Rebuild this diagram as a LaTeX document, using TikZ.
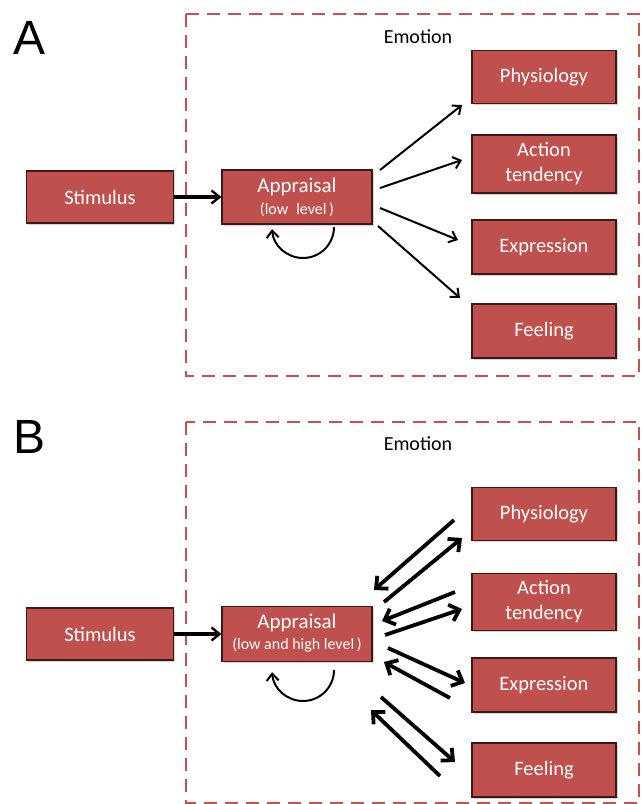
\documentclass[tikz,border=0pt]{standalone}
\usepackage{fontspec}
\setmainfont{Carlito}
\newfontfamily\labelfont{Liberation Sans}
\usetikzlibrary{arrows.meta,shadows}
\definecolor{boxred}{HTML}{C0504D}
\definecolor{boxedge}{HTML}{3A1A19}
\definecolor{dashred}{HTML}{C9504E}
\begin{document}
\begin{tikzpicture}[x=1pt,y=-1pt,
  rbox/.style={draw=boxedge,line width=1.2pt,fill=boxred,text=white,font=\fontsize{20.5}{25}\selectfont,
    minimum width=146pt,minimum height=53pt,inner sep=1pt,align=center,anchor=center,
    drop shadow={shadow xshift=1.5pt,shadow yshift=-1.5pt,opacity=0.35}},
  emobox/.style={draw=dashred,line width=2.2pt,dash pattern=on 13pt off 8pt},
  thinarr/.style={line width=2pt,-{Straight Barb[length=7pt,width=12pt,line width=2pt]}},
  fatarr/.style={line width=3.8pt,-{Straight Barb[length=9pt,width=17pt,line width=3.8pt]}},
  stimarr/.style={line width=3.2pt,-{Straight Barb[length=8pt,width=13pt,line width=2.4pt]}},
  panel/.style={font=\labelfont\fontsize{48}{48}\selectfont},
  emolabel/.style={font=\fontsize{20}{22}\selectfont},
  apptitle/.style={text=white,font=\fontsize{21}{23}\selectfont},
  appsub/.style={text=white,font=\fontsize{16}{18}\selectfont}]
\useasboundingbox (0,0) rectangle (641,804);
% ---------- Panel A ----------
\node[panel] (labA) at (30,38) {A};
\draw[emobox] (186,14) rectangle (639,376);
\node[emolabel] (emoA) at (418,37) {Emotion};
\node[rbox,minimum width=147pt,minimum height=52pt] (stimA) at (100,197) {Stimulus};
\node[rbox,minimum width=150pt,minimum height=54pt] (appA) at (297,197) {};
\node[apptitle] (appAt) at (297,187) {Appraisal};
\node[appsub] (appAs) at (297,210) {(low\; level\,)};
\node[rbox,minimum width=144pt,minimum height=53pt] (physA) at (544,77) {Physiology};
\node[rbox,minimum width=144pt,minimum height=58pt] (actA) at (544,164) {Action\\tendency};
\node[rbox,minimum width=144pt,minimum height=54pt] (exprA) at (544,247) {Expression};
\node[rbox,minimum width=144pt,minimum height=54pt] (feelA) at (544,331) {Feeling};
\draw[stimarr] (stimA.east) -- (appA.west);
\coordinate (a1s) at (380,170); \coordinate (a1e) at (462,105);
\coordinate (a2s) at (380,188); \coordinate (a2e) at (462,160);
\coordinate (a3s) at (380,208); \coordinate (a3e) at (458,240);
\coordinate (a4s) at (378,226); \coordinate (a4e) at (460,298);
\draw[thinarr] (a1s) -- (a1e);
\draw[thinarr] (a2s) -- (a2e);
\draw[thinarr] (a3s) -- (a3e);
\draw[thinarr] (a4s) -- (a4e);
\coordinate (loopAs) at (334,227);
\draw[thinarr] (loopAs) arc[start angle=0,end angle=-176,x radius=31pt,y radius=31pt];
% ---------- Panel B ----------
\node[panel] (labB) at (30,437) {B};
\draw[emobox] (186,422) rectangle (639,803);
\node[emolabel] (emoB) at (418,444) {Emotion};
\node[rbox,minimum width=147pt,minimum height=52pt] (stimB) at (100,634) {Stimulus};
\node[rbox,minimum width=150pt,minimum height=55pt] (appB) at (297,634) {};
\node[apptitle] (appBt) at (297,623) {Appraisal};
\node[appsub] (appBs) at (297,645) {(low and high level\,)};
\node[rbox,minimum width=144pt,minimum height=53pt] (physB) at (544,514) {Physiology};
\node[rbox,minimum width=144pt,minimum height=57pt] (actB) at (544,602) {Action\\tendency};
\node[rbox,minimum width=144pt,minimum height=54pt] (exprB) at (544,685) {Expression};
\node[rbox,minimum width=144pt,minimum height=54pt] (feelB) at (544,770) {Feeling};
\draw[stimarr] (stimB.east) -- (appB.west);
% physiology pair
\coordinate (p1s) at (454,520); \coordinate (p1e) at (374,590);
\coordinate (p2s) at (384,602); \coordinate (p2e) at (462,538);
\draw[fatarr] (p1s) -- (p1e);
\draw[fatarr] (p2s) -- (p2e);
% action pair
\coordinate (q1s) at (455,592); \coordinate (q1e) at (382,621);
\coordinate (q2s) at (385,635); \coordinate (q2e) at (462,609);
\draw[fatarr] (q1s) -- (q1e);
\draw[fatarr] (q2s) -- (q2e);
% expression pair
\coordinate (r1s) at (388,648); \coordinate (r1e) at (465,683);
\coordinate (r2s) at (450,698); \coordinate (r2e) at (384,662);
\draw[fatarr] (r1s) -- (r1e);
\draw[fatarr] (r2s) -- (r2e);
% feeling pair
\coordinate (f1s) at (381,697); \coordinate (f1e) at (455,762);
\coordinate (f2s) at (440,776); \coordinate (f2e) at (371,710);
\draw[fatarr] (f1s) -- (f1e);
\draw[fatarr] (f2s) -- (f2e);
\coordinate (loopBs) at (334,670);
\draw[thinarr] (loopBs) arc[start angle=0,end angle=-176,x radius=31pt,y radius=31pt];
\end{tikzpicture}
\end{document}
